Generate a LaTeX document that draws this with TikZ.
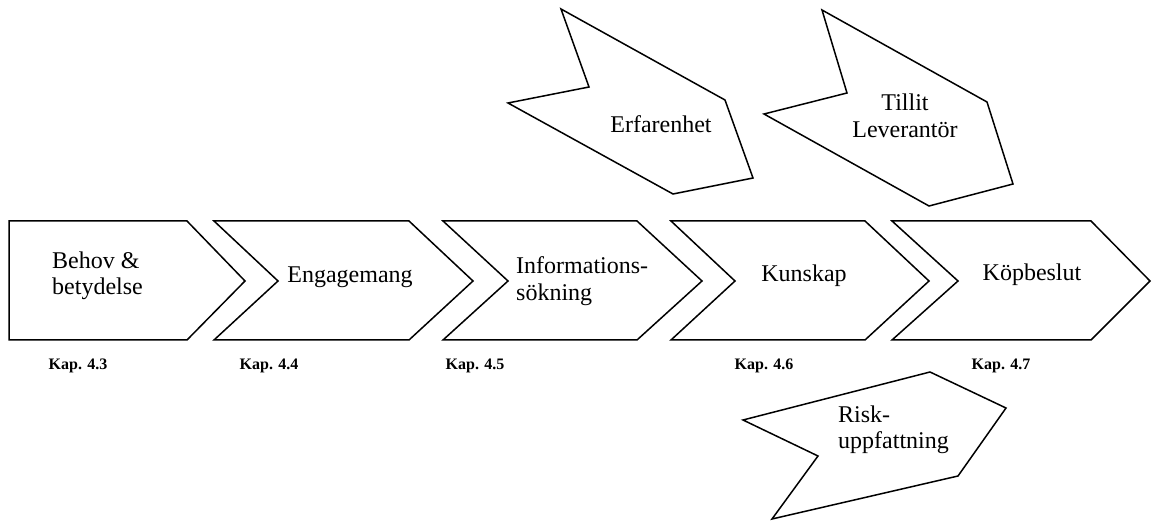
\documentclass[tikz,border=0pt]{standalone}
\usepackage{fontspec}
\setmainfont{Liberation Serif}
\begin{document}
\begin{tikzpicture}[x=1pt,y=-1pt,
  shapeline/.style={draw=black, line width=1.5pt, line join=miter, fill=white},
  lbl/.style={inner sep=0pt, font=\fontsize{24}{26.5}\selectfont},
  kap/.style={inner sep=0pt, anchor=base, font=\fontsize{16}{18}\selectfont\bfseries}]
\useasboundingbox (0,0) rectangle (1152,521);
% process chevrons
\draw[shapeline] (9,221) -- (187,221) -- (245,281) -- (187,340) -- (9,340) -- cycle;
\draw[shapeline] (214,221) -- (409,221) -- (473,281) -- (409,340) -- (214,340) -- (278,281) -- cycle;
\draw[shapeline] (443,221) -- (637,221) -- (702,281) -- (637,340) -- (443,340) -- (508,281) -- cycle;
\draw[shapeline] (671,221) -- (865,221) -- (929,281) -- (865,340) -- (671,340) -- (735,281) -- cycle;
\draw[shapeline] (892,221) -- (1091,221) -- (1150,281) -- (1091,340) -- (892,340) -- (958,281) -- cycle;
% influence arrows
\draw[shapeline] (561,9) -- (725,100) -- (753,178) -- (673,194) -- (508,103) -- (589,87) -- cycle;
\draw[shapeline] (822,10) -- (987,102) -- (1013,184) -- (929,206) -- (764,114) -- (847,93) -- cycle;
\draw[shapeline] (930,372) -- (1006,408) -- (958,476) -- (772,519) -- (818,456) -- (743,420) -- cycle;
% labels
\node[lbl, anchor=west, align=left] (behov) at (52,276) {Behov \&\\betydelse};
\node[lbl, anchor=base] (eng) at (350,283) {Engagemang};
\node[lbl, anchor=west, align=left] (info) at (516,281) {Informations-\\sökning};
\node[lbl, anchor=base] (kun) at (804,282) {Kunskap};
\node[lbl, anchor=base] (kop) at (1032,281) {Köpbeslut};
\node[lbl, anchor=base] (erf) at (661,133) {Erfarenhet};
\node[lbl, align=center] (till) at (905,116) {Tillit\\Leverantör};
\node[lbl, anchor=west, align=left] (risk) at (838,430) {Risk-\\uppfattning};
\node[kap] (k3) at (78,370) {Kap. 4.3};
\node[kap] (k4) at (269,370) {Kap. 4.4};
\node[kap] (k5) at (475,370) {Kap. 4.5};
\node[kap] (k6) at (764,370) {Kap. 4.6};
\node[kap] (k7) at (1001,370) {Kap. 4.7};
\end{tikzpicture}
\end{document}
